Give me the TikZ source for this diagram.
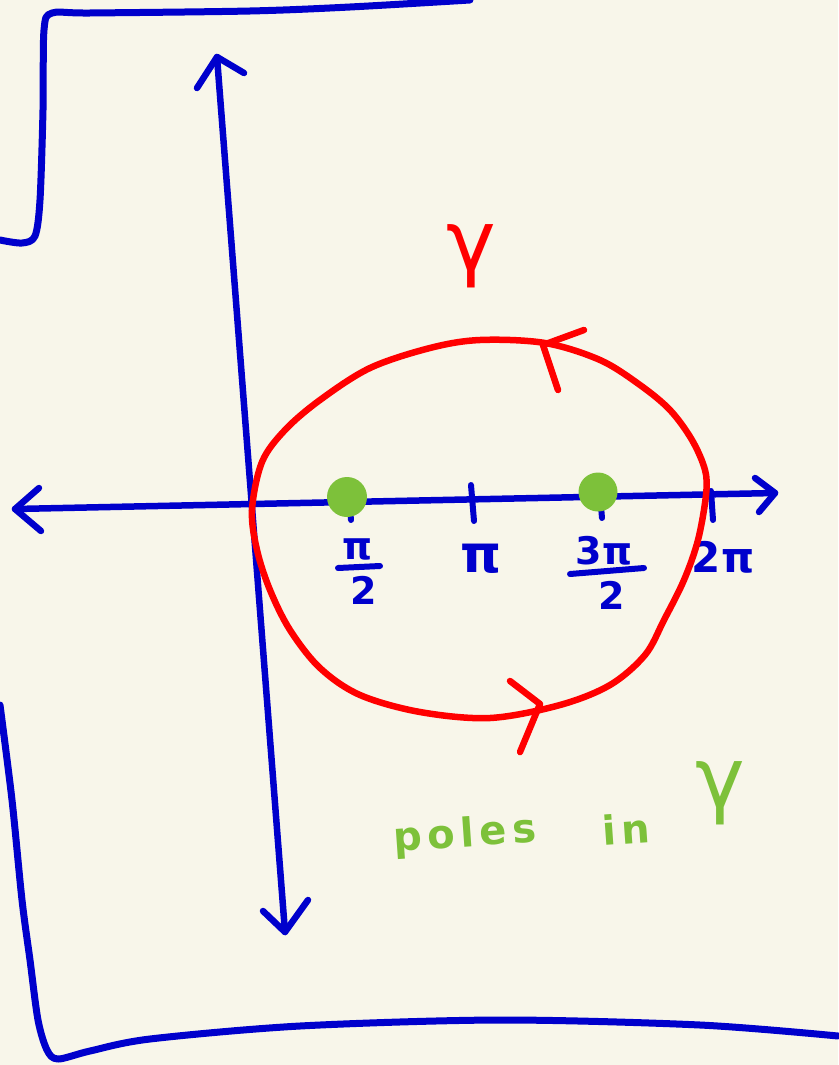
\documentclass[tikz,border=0pt]{standalone}
\usepackage{fontspec}
\setmainfont{DejaVu Sans}
\definecolor{bg}{RGB}{248,246,234}
\definecolor{penblue}{RGB}{0,0,204}
\definecolor{penred}{RGB}{255,0,0}
\definecolor{pengreen}{RGB}{125,193,58}
\tikzset{
  frame/.style={penblue, line width=7pt, line cap=round, line join=round},
  axis/.style={penblue, line width=6.5pt, line cap=round, line join=round},
  tick/.style={penblue, line width=6pt, line cap=round},
  fracbar/.style={penblue, line width=6pt, line cap=round},
  contour/.style={penred, line width=6.5pt, line cap=round, line join=round},
  pole/.style={pengreen},
  blab/.style={text=penblue, inner sep=0pt},
}
\begin{document}
\begin{tikzpicture}[x=1pt,y=-1pt]
\fill[bg] (0,0) rectangle (838,1065);
\useasboundingbox (0,0) rectangle (838,1065);

% frame
\draw[frame] plot[smooth, tension=0.5] coordinates {(0,240) (22,243) (35,236) (40,200) (43,110) (44,30) (52,13) (90,13) (250,11) (350,7) (470,0)};
\draw[frame] plot[smooth, tension=0.5] coordinates {(0,705) (12,800) (22,900) (30,960) (38,1020) (47,1050) (58,1059) (90,1051) (150,1039) (300,1026) (500,1020) (700,1025) (838,1036)};

% axes
\coordinate (vtop) at (217,57);
\coordinate (vbot) at (285,932);
\coordinate (vtl) at (197,88);
\coordinate (vtr) at (244,73);
\coordinate (vbl) at (263,911);
\coordinate (vbr) at (308,900);
\draw[axis] (vtop) -- (vbot);
\draw[axis] (vtl) -- (vtop) -- (vtr);
\draw[axis] (vbl) -- (vbot) -- (vbr);

\coordinate (hl) at (15,509);
\coordinate (hr) at (775,493);
\coordinate (hla) at (39,488);
\coordinate (hlb) at (41,531);
\coordinate (hra) at (755,478);
\coordinate (hrb) at (759,512);
\draw[axis] (hl) -- (hr);
\draw[axis] (hla) -- (hl) -- (hlb);
\draw[axis] (hra) -- (hr) -- (hrb);

% ticks
\draw[tick] (350,508) -- (351,520);
\draw[tick] (471,485) -- (474,521);
\draw[tick] (601,506) -- (602,518);
\draw[tick] (711,491) -- (713,520);

% poles
\fill[pole] (347,497) circle (20);
\fill[pole] (598,492) circle (19.5);

% labels
\node[blab, font=\fontsize{38}{44}\bfseries] (lpi2n) at (358,549) {π};
\coordinate (b1a) at (338,568);
\coordinate (b1b) at (380,566);
\draw[fracbar] (b1a) -- (b1b);
\node[blab, font=\fontsize{38}{44}\bfseries] (lpi2d) at (364,590) {2};
\node[blab, font=\fontsize{52}{60}\bfseries] (lpi) at (481,559) {π};
\node[blab, font=\fontsize{38}{44}\bfseries] (l3pi2n) at (604,551) {3π};
\coordinate (b2a) at (570,574);
\coordinate (b2b) at (644,568);
\draw[fracbar] (b2a) -- (b2b);
\node[blab, font=\fontsize{38}{44}\bfseries] (l3pi2d) at (612,595) {2};
\node[blab, font=\fontsize{42}{50}\bfseries] (l2pi) at (723,557) {2π};

% contour gamma
\draw[contour] plot[smooth cycle, tension=0.55] coordinates {
 (252,510) (262,462) (285,430) (320,400) (370,368) (430,348) (480,340)
 (545,343) (600,360) (640,385) (670,410) (692,440) (705,470) (706,495)
 (698,540) (684,580) (664,620) (645,655) (610,685) (560,705) (490,718)
 (420,712) (360,695) (320,668) (290,630) (270,590) (257,550)};
\coordinate (at) at (543,345);
\coordinate (ata) at (584,330);
\coordinate (atb) at (558,390);
\draw[contour] (ata) -- (at) -- (atb);
\coordinate (ab) at (540,704);
\coordinate (aba) at (510,681);
\coordinate (abb) at (520,752);
\draw[contour] (aba) -- (ab) -- (abb);

\node[text=penred, inner sep=0pt, font=\fontsize{84}{92}\selectfont] (gam) at (471,256) {γ};

% poles in gamma
\node[text=pengreen, inner sep=0pt, rotate=4, anchor=base west, font=\fontsize{40}{48}\bfseries\addfontfeature{LetterSpace=14}] (poles) at (394,852) {poles};
\node[text=pengreen, inner sep=0pt, rotate=4, anchor=base west, font=\fontsize{40}{48}\bfseries\addfontfeature{LetterSpace=14}] (inw) at (603,846) {in};
\node[text=pengreen, inner sep=0pt, font=\fontsize{84}{92}\selectfont] (gam2) at (720,793) {γ};
\end{tikzpicture}
\end{document}
